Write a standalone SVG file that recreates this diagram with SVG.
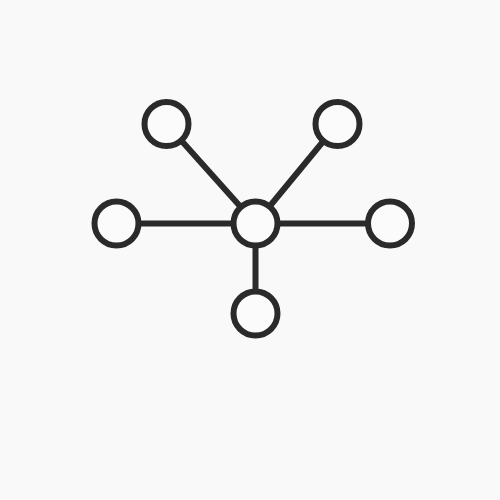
<svg xmlns="http://www.w3.org/2000/svg" width="500" height="500" viewBox="0 0 500 500">
<style>
.n{fill:#fbfbfb;stroke:#2a2a2a;stroke-width:6}
.e{stroke:#2a2a2a;stroke-width:6;fill:none}
</style>
<rect width="500" height="500" fill="#f9f9f9"/>
<g id="edges">
<line class="e" x1="255.5" y1="223.5" x2="166.5" y2="124"/>
<line class="e" x1="255.5" y1="223.5" x2="337.5" y2="124"/>
<line class="e" x1="255.5" y1="223.5" x2="116.5" y2="223.5"/>
<line class="e" x1="255.5" y1="223.5" x2="390" y2="223.5"/>
<line class="e" x1="255.5" y1="223.5" x2="255.5" y2="313.5"/>
</g>
<g id="n-center"><circle class="n" cx="255.5" cy="223.5" r="22"/></g>
<g id="n-tl"><circle class="n" cx="166.5" cy="124" r="22"/></g>
<g id="n-tr"><circle class="n" cx="337.5" cy="124" r="22"/></g>
<g id="n-l"><circle class="n" cx="116.5" cy="223.5" r="22"/></g>
<g id="n-r"><circle class="n" cx="390" cy="223.5" r="22"/></g>
<g id="n-b"><circle class="n" cx="255.5" cy="313.5" r="22"/></g>
</svg>
